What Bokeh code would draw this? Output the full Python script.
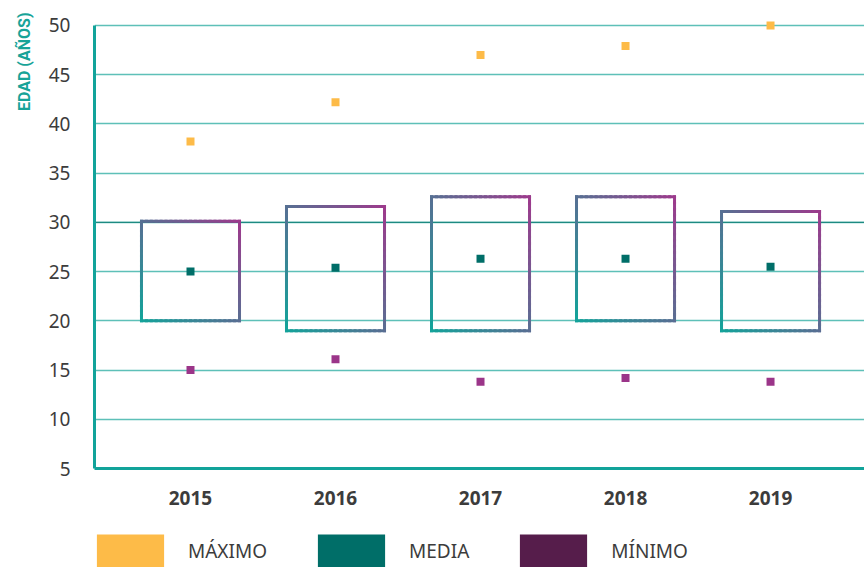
from bokeh.plotting import figure
from bokeh.layouts import column
from bokeh.models import Range1d, FixedTicker, Span, Legend, LegendItem, Title
from bokeh.embed import file_html
from bokeh.resources import INLINE
import numpy as np

# ---- data ----
years = ["2015", "2016", "2017", "2018", "2019"]
maximo = [38.2, 42.2, 47.0, 47.9, 50.0]
media = [25.0, 25.4, 26.3, 26.3, 25.5]
minimo = [15.0, 16.1, 13.8, 14.2, 13.8]
box_low = [20.0, 19.0, 19.0, 20.0, 19.0]
box_high = [30.1, 31.6, 32.6, 32.6, 31.1]
y_ticks = [5, 10, 15, 20, 25, 30, 35, 40, 45, 50]
legend_labels = ["MÁXIMO", "MEDIA", "MÍNIMO"]
y_title = "EDAD (AÑOS)"

# ---- styles ----
C_MAX = "#FDBB48"
C_MEAN = "#006E68"
C_MIN = "#9B3589"
C_MIN_LEG = "#561D4B"
C_AXIS = "#12A39A"
C_GRID = "#5EC0B8"
C_TEXT = "#3C3C3C"
TEAL = np.array([19, 163, 154])
MAG = np.array([157, 58, 140])

W = 864
H_MAIN, H_LEG = 515, 52
xs = list(range(len(years)))

p = figure(width=W, height=H_MAIN, output_backend="svg", toolbar_location=None, title=None,
           x_range=Range1d(-0.662, 4.648), y_range=Range1d(5, 50.6),
           min_border_left=94, min_border_right=0, min_border_top=19, min_border_bottom=47)
p.outline_line_color = None
p.background_fill_color = "white"
p.border_fill_color = "white"

# grid
p.xgrid.grid_line_color = None
p.ygrid.ticker = FixedTicker(ticks=y_ticks)
p.ygrid.grid_line_color = C_GRID
p.ygrid.grid_line_width = 1.6
p.add_layout(Span(location=30, dimension="width", line_color="#1E8A82",
                  line_width=1.2, level="underlay"))

# axes
p.yaxis.ticker = FixedTicker(ticks=y_ticks)
p.yaxis.bounds = (5, 50)
p.xaxis.ticker = FixedTicker(ticks=xs)
p.xaxis.major_label_overrides = {i: y for i, y in zip(xs, years)}
for ax in (p.xaxis, p.yaxis):
    ax.axis_line_color = C_AXIS
    ax.axis_line_width = 3
    ax.major_tick_line_color = None
    ax.minor_tick_line_color = None
    ax.major_label_text_color = C_TEXT
    ax.major_label_text_font = "Noto Sans"
p.yaxis.major_label_text_font_size = "19px"
p.yaxis.major_label_standoff = 18
p.xaxis.major_label_text_font_size = "19px"
p.xaxis.major_label_text_font_style = "bold"
p.xaxis.major_label_standoff = 16

# y title at top-left
t = Title(text=y_title, align="right", text_color="#17A398", text_font_size="16px",
          text_font="Roboto", text_font_style="bold", standoff=23, offset=-7)
p.add_layout(t, "left")

# gradient-outlined boxes
def col(tv):
    c = TEAL + (MAG - TEAL) * tv
    return "#%02x%02x%02x" % tuple(int(round(v)) for v in c)

hw = 0.338
N = 20
path = [(0, 0), (1, 0), (1, 1), (0, 1), (0, 0)]
x0s, y0s, x1s, y1s, cols = [], [], [], [], []
for i, xc in enumerate(xs):
    lo, hi = box_low[i], box_high[i]
    for (ax_, ay_), (bx_, by_) in zip(path[:-1], path[1:]):
        for k in range(N):
            f0, f1 = k / N, (k + 1) / N
            fx0, fy0 = ax_ + (bx_ - ax_) * f0, ay_ + (by_ - ay_) * f0
            fx1, fy1 = ax_ + (bx_ - ax_) * f1, ay_ + (by_ - ay_) * f1
            x0s.append(xc - hw + 2 * hw * fx0)
            x1s.append(xc - hw + 2 * hw * fx1)
            y0s.append(lo + (hi - lo) * fy0)
            y1s.append(lo + (hi - lo) * fy1)
            cols.append(col(((fx0 + fx1) / 2 + (fy0 + fy1) / 2) / 2))
p.segment(x0=x0s, y0=y0s, x1=x1s, y1=y1s, line_color=cols, line_width=3, line_cap="square")

# points
p.scatter(xs, maximo, marker="square", size=8, fill_color=C_MAX, line_color=None)
p.scatter(xs, media, marker="square", size=8, fill_color=C_MEAN, line_color=None)
p.scatter(xs, minimo, marker="square", size=8, fill_color=C_MIN, line_color=None)

# ---- legend strip (separate figure, library legend) ----
lf = figure(width=W, height=H_LEG, output_backend="svg", toolbar_location=None, title=None,
            x_range=Range1d(0, 1), y_range=Range1d(0, 1),
            x_axis_location=None, y_axis_location=None,
            min_border_left=0, min_border_right=0, min_border_top=0, min_border_bottom=0)
lf.outline_line_color = None
lf.grid.grid_line_color = None
items = []
for lab, c in zip(legend_labels, [C_MAX, C_MEAN, C_MIN_LEG]):
    r = lf.quad(top=[0], bottom=[0], left=[0], right=[0], fill_color=c, line_color=None)
    items.append(LegendItem(label=lab, renderers=[r]))
leg = Legend(items=items, orientation="horizontal", glyph_width=84, glyph_height=41,
             label_standoff=16, spacing=42, label_text_font_size="19px",
             label_text_color=C_TEXT, label_text_font="Noto Sans",
             border_line_color=None, background_fill_alpha=0,
             padding=0, margin=0, location=(-6, -4))
lf.add_layout(leg, "center")

layout = column(p, lf, spacing=0)
open("out.html", "w").write(file_html(layout, INLINE))
